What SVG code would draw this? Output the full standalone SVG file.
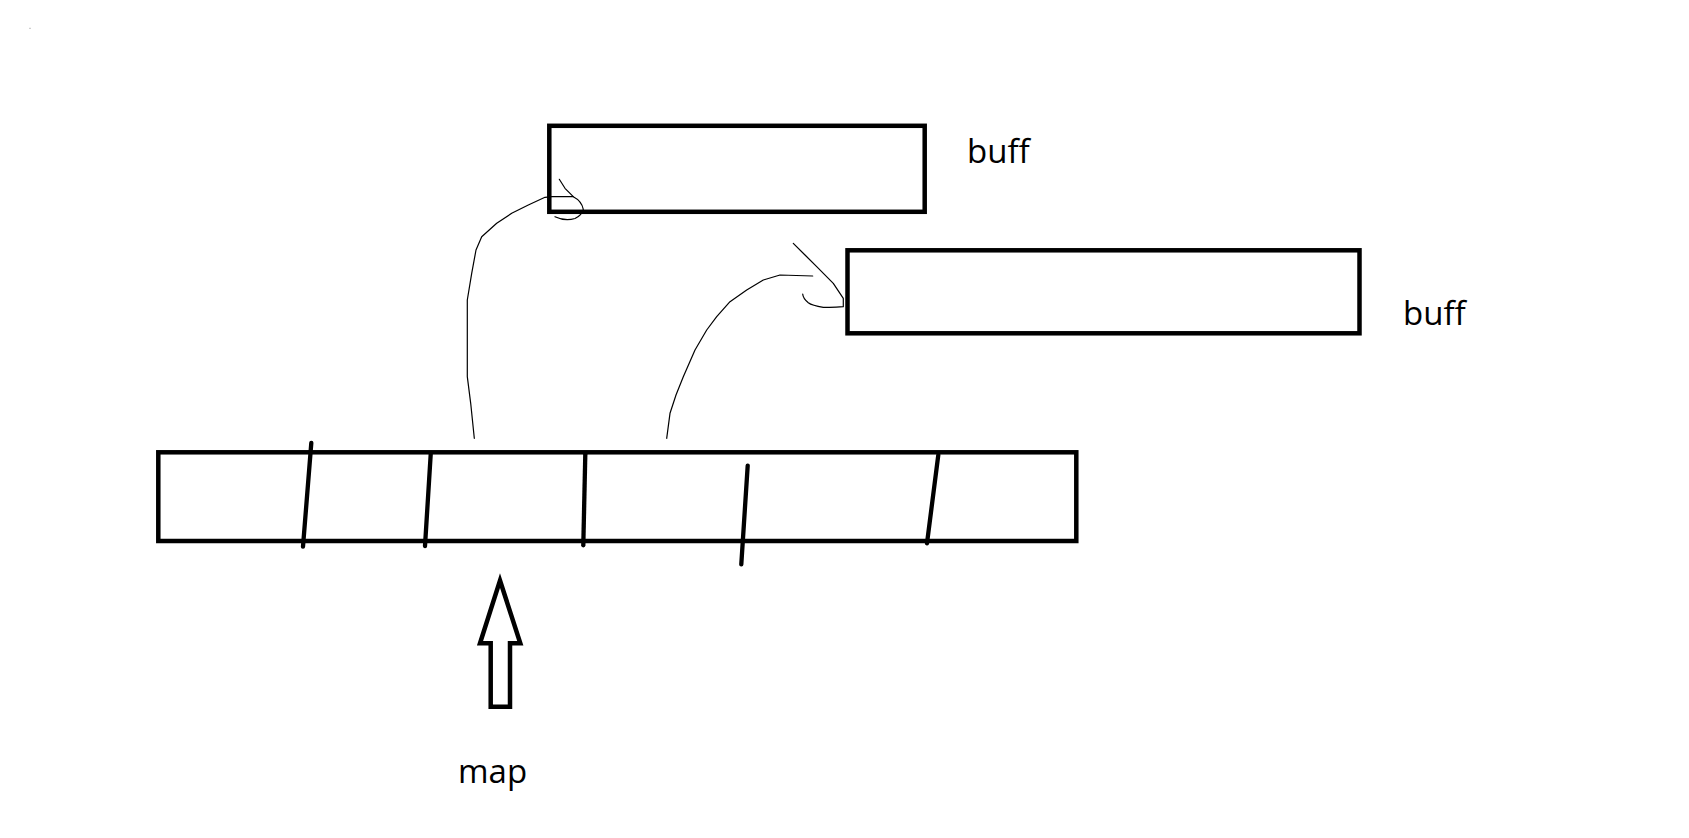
<svg xmlns="http://www.w3.org/2000/svg" width="1689" height="838" viewBox="0 0 1689 838">
<defs>
<style>
.box{fill:none;stroke:#000;stroke-width:4.5}
.div{fill:none;stroke:#000;stroke-width:4.3;stroke-linecap:round}
.thin{fill:none;stroke:#000;stroke-width:1.2;stroke-linejoin:round;stroke-linecap:round}
.lbl{font-family:"Open Sans","Noto Sans",sans-serif;font-size:33px;fill:#000}
</style>
</defs>
<rect width="1689" height="838" fill="#fff"/>
<rect x="29.5" y="27.8" width="1" height="1" fill="#888"/>
<g id="buff1">
<rect class="box" x="549.3" y="125.8" width="375.4" height="86"/>
<text class="lbl" x="967" y="162.7">buff</text>
</g>
<g id="buff2">
<rect class="box" x="847.5" y="250.3" width="512" height="83"/>
<text class="lbl" x="1403" y="325">buff</text>
</g>
<g id="map-array">
<rect class="box" x="158.3" y="452.3" width="918" height="88.7"/>
<line class="div" x1="311.3" y1="443" x2="303" y2="546.5"/>
<line class="div" x1="430.7" y1="454.3" x2="425" y2="546"/>
<line class="div" x1="585.3" y1="454.3" x2="583.3" y2="545.3"/>
<line class="div" x1="747.7" y1="465.7" x2="741.3" y2="564.3"/>
<line class="div" x1="938.3" y1="455" x2="927" y2="543.3"/>
</g>
<g id="map-arrow">
<polygon class="box" stroke-linejoin="miter" points="500,580.5 520.3,643.3 510,643.3 510,706.7 490.7,706.7 490.7,643.3 480,643.3"/>
<text class="lbl" x="458" y="782.7">map</text>
</g>
<g id="connectors">
<polyline class="thin" points="474.3,438.3 470.7,403.3 467.3,376.7 467.3,300 471.7,273.3 476,250 481.7,236.7 496.7,223.3 511.7,213.3 528.3,205 545,197.3 552,196.7 573.3,196.7"/>
<path class="thin" d="M559.3,179.3 L565,188.3 L573.3,196.7 Q581.7,201 583.3,209.3 Q582,215 575,218.5 Q565,221.5 555,216.7"/>
<polyline class="thin" points="666.7,438.3 670,413.3 676,395 683.3,376.7 695,350 706.7,330 716.7,316.7 730,301.7 746.7,290 763.3,280 780,275 812.7,276"/>
<path class="thin" d="M793.3,243.3 L805,255 L816.7,266.7 L833.3,283.3 L843.3,298.3 L843.3,306.7 Q833,307.8 823.3,307.3 Q812,305.5 808.3,302.7 Q803,298.5 802.7,294"/>
</g>
</svg>
